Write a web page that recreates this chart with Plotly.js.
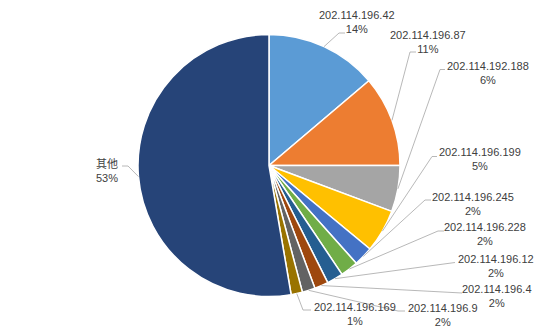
<!DOCTYPE html>
<html>
<head>
<meta charset="utf-8">
<script src="https://cdn.plot.ly/plotly-3.0.1.min.js"></script>
<style>html,body{margin:0;padding:0;background:#fff;}#chart{width:538px;height:333px;}</style>
</head>
<body>
<div id="chart"></div>
<script>
// ---- data ----
const labels = ['202.114.196.42','202.114.196.87','202.114.192.188','202.114.196.199','202.114.196.245','202.114.196.228','202.114.196.12','202.114.196.4','202.114.196.9','202.114.196.169','其他'];
const values = [13.8, 11.2, 5.7, 5.3, 2.4, 2.2, 2.0, 1.7, 1.6, 1.4, 52.7];
const colors = ['#5B9BD5','#ED7D31','#A5A5A5','#FFC000','#4472C4','#70AD47','#255E91','#9E480E','#636363','#997300','#264478'];

// ---- layout (pixel positions of labels and leader bends) ----
const W = 538, H = 333;
const CX = 269, CY = 165.5, R = 131;
const labelPos = [
  {c:[357,22],   b:[339,33],   e:[345,33]},
  {c:[428,42.5], b:[410,52],   e:[416,52]},
  {c:[488,72.5], b:[440,69.5], e:[445,69.5]},
  {c:[480,159.5],b:[432,156.5],e:[437,156.5]},
  {c:[473,203.5],b:[425,200],  e:[431,200]},
  {c:[485,234.5],b:[438,231],  e:[444,231]},
  {c:[496,265.5],b:[455,262.5],e:[455,262.5]},
  {c:[497,296],  b:[462,293],  e:[462,293]},
  {c:[443,315],  b:[398,311],  e:[405,311]},
  {c:[355,314],  b:[303,310],  e:[311,310]},
  {c:[107,171],  b:[128,166],  e:[122,166]}
];

const px = x => x / W;
const py = y => 1 - y / H;

const total = values.reduce((a, b) => a + b, 0);
let cum = 0;
const annotations = [];
const shapes = [];
values.forEach((v, i) => {
  const mid = (cum + v / 2) / total * 2 * Math.PI;
  cum += v;
  const ex = CX + R * Math.sin(mid), ey = CY - R * Math.cos(mid);
  const p = labelPos[i];
  shapes.push({
    type: 'path', xref: 'paper', yref: 'paper',
    path: `M ${px(ex)},${py(ey)} L ${px(p.b[0])},${py(p.b[1])} L ${px(p.e[0])},${py(p.e[1])}`,
    line: {color: '#A6A6A6', width: 0.8}
  });
  annotations.push({
    xref: 'paper', yref: 'paper', x: px(p.c[0]), y: py(p.c[1]),
    xanchor: 'center', yanchor: 'middle', align: 'center', showarrow: false,
    text: labels[i] + '<br>' + Math.round(v / total * 100) + '%',
    font: {family: 'Liberation Sans, Arial, Noto Sans CJK SC, sans-serif', size: 11, color: '#404040'}
  });
});

const trace = {
  type: 'pie', labels: labels, values: values, sort: false,
  direction: 'clockwise', rotation: 0,
  marker: {colors: colors, line: {color: '#FFFFFF', width: 1.5}},
  textinfo: 'none', hoverinfo: 'none',
  domain: {x: [px(CX - R), px(CX + R)], y: [py(CY + R), py(CY - R)]}
};

const layout = {
  width: W, height: H, margin: {l: 0, r: 0, t: 0, b: 0},
  showlegend: false, paper_bgcolor: '#FFFFFF',
  annotations: annotations, shapes: shapes
};

Plotly.newPlot('chart', [trace], layout, {displayModeBar: false, staticPlot: true});
</script>
</body>
</html>
